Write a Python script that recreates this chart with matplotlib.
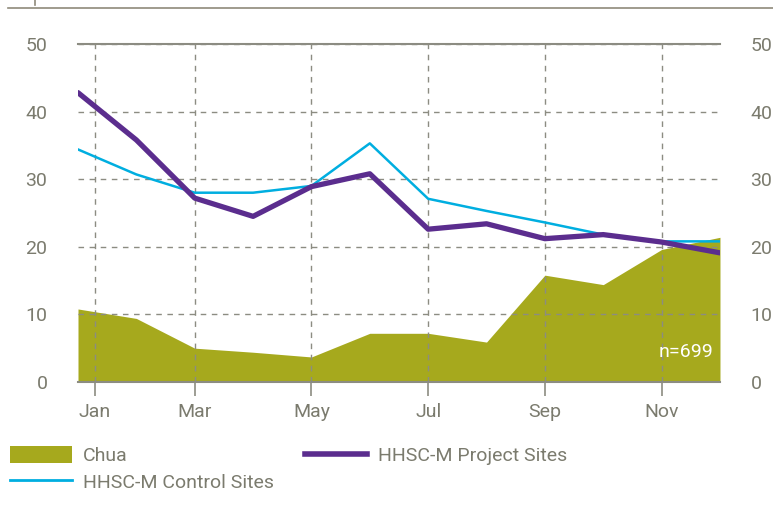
import matplotlib
matplotlib.use("Agg")
import matplotlib.pyplot as plt
from matplotlib.lines import Line2D
from matplotlib.patches import Patch
import numpy as np

plt.rcParams['font.family'] = ['Roboto', 'DejaVu Sans']

months = ["Jan", "Feb", "Mar", "Apr", "May", "Jun",
          "Jul", "Aug", "Sep", "Oct", "Nov", "Dec"]
chua = [10.8, 9.4, 5.0, 4.4, 3.7, 7.2, 7.2, 5.9, 15.8, 14.4, 19.6, 21.4]
project = [42.8, 35.8, 27.2, 24.5, 28.9, 30.8, 22.6, 23.4, 21.2, 21.8, 20.7, 19.1]
control = [34.4, 30.7, 28.0, 28.0, 29.0, 35.3, 27.1, 25.3, 23.6, 21.8, 20.8, 20.8]
tick_months = ["Jan", "Mar", "May", "Jul", "Sep", "Nov"]
y_ticks = [0, 10, 20, 30, 40, 50]

green = "#a6a91d"
purple = "#5b2d8e"
cyan = "#00aee0"
grey = "#7b7b6e"
gridc = "#8c8c82"

x = np.arange(len(months))

fig = plt.figure(figsize=(7.73, 5.15), dpi=100)
ax = fig.add_axes([0.1009, 0.2583, 0.8305, 0.6563])

ax.fill_between(x, 0, chua, color=green, lw=0, zorder=1)
ax.plot(x, control, color=cyan, lw=1.8, zorder=3)
ax.plot(x, project, color=purple, lw=3.8, zorder=3, solid_capstyle='round')

ax.set_xlim(0, 11)
ax.set_ylim(0, 50)

# the Jan tick sits a bit right of the first data point in the original
xt = [0.29 if m == "Jan" else months.index(m) for m in tick_months]
ax.set_xticks(xt)
ax.set_xticklabels(tick_months)
ax.set_yticks(y_ticks)
ax.tick_params(axis='x', length=10, width=1.2, color=gridc, labelcolor=grey,
               labelsize=14, pad=5)
ax.tick_params(axis='y', length=0, labelcolor=grey, labelsize=14, pad=22,
               labelright=True)

ax.set_axisbelow(False)
ax.grid(True, color=gridc, linestyle=(0, (4, 4)), lw=1)

for s in ["left", "right"]:
    ax.spines[s].set_visible(False)
for s in ["top", "bottom"]:
    ax.spines[s].set_color(gridc)
    ax.spines[s].set_linewidth(1.5)
    ax.spines[s].set_zorder(4)

ax.text(10.88, 4.5, "n=699", color="white", fontsize=14, ha="right",
        va="center", zorder=5)

# thin rule along the top of the figure
fig.add_artist(Line2D([8 / 773, 1], [1 - 8 / 515, 1 - 8 / 515],
                      color="#8f8a7a", lw=1.2))
fig.add_artist(Line2D([35 / 773, 35 / 773], [1 - 5 / 515, 1],
                      color="#8f8a7a", lw=1.2))

handles = [Patch(facecolor=green, edgecolor="none"),
           Line2D([], [], color=cyan, lw=2),
           Line2D([], [], color=purple, lw=4)]
labels = ["Chua", "HHSC-M Control Sites", "HHSC-M Project Sites"]
leg = fig.legend(handles, labels, ncol=2, loc="upper left",
                 bbox_to_anchor=(10 / 773, 1 - 446 / 515), frameon=False,
                 fontsize=14, handlelength=3.2, handleheight=1.0,
                 handletextpad=0.55, labelspacing=0.35, columnspacing=1.6,
                 borderaxespad=0, borderpad=0)
for t in leg.get_texts():
    t.set_color(grey)

fig.savefig("out.png", dpi=100)
